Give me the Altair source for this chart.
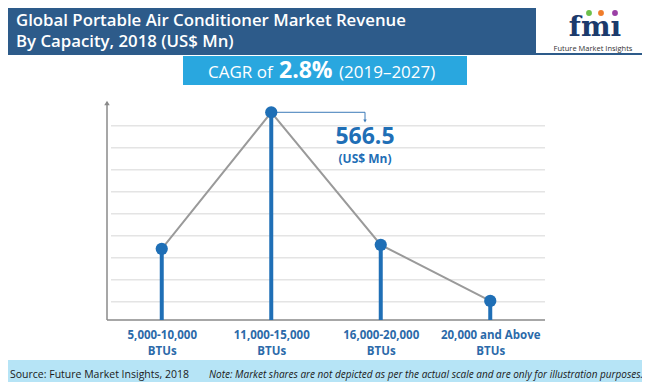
import altair as alt
import pandas as pd

# ---- data ----
categories = ["5,000-10,000", "11,000-15,000", "16,000-20,000", "20,000 and Above"]
values = [194, 566.5, 205, 52]
grid_values = [50, 110, 170, 230, 290, 350, 410, 470, 530]

title_line1 = "Global Portable Air Conditioner Market Revenue"
title_line2 = "By Capacity, 2018 (US$ Mn)"
source_text = "Source: Future Market Insights, 2018"
note_text = "Note: Market shares are not depicted as per the actual scale and are only for illustration purposes."

df = pd.DataFrame({"cat": categories, "v": values})
grid_df = pd.DataFrame({"g": grid_values})

W, H = 438, 220
FONT = "Open Sans"
BLUE = "#1f6fb6"
HEADER = "#2d5b8a"
one = alt.Data(values=[{}])

yscale = alt.Scale(domain=[0, 600], nice=False, zero=True)
xaxis = alt.Axis(
    title=None, domain=False, ticks=False, labelAngle=0,
    labelExpr="[datum.label, 'BTUs']", labelFontSize=11.5, labelFont=FONT,
    labelFontWeight="bold", labelColor="#2b6aa9", labelPadding=9, labelLineHeight=16,
)


def X():
    return alt.X("cat:N", sort=categories, scale=alt.Scale(type="point", padding=0.5), axis=xaxis)


def Y(field="v:Q"):
    return alt.Y(field, scale=yscale, axis=None)


def rect(x, x2, y, y2, color):
    return alt.Chart(one).mark_rect(color=color).encode(
        x=alt.value(x), x2=alt.value(x2), y=alt.value(y), y2=alt.value(y2))


def txt(t, x, y, size, color, weight="normal", align="left", baseline="alphabetic", font=FONT, style="normal"):
    return alt.Chart(one).mark_text(
        text=t, fontSize=size, color=color, fontWeight=weight, align=align,
        baseline=baseline, font=font, fontStyle=style).encode(x=alt.value(x), y=alt.value(y))


def dot(x, y, color, size, shape="circle"):
    return alt.Chart(one).mark_point(shape=shape, filled=True, size=size, color=color, opacity=1).encode(
        x=alt.value(x), y=alt.value(y))


# background decoration
header = rect(-120, 560, -110, -45, HEADER)
logo_box = rect(429, 560, -110, -47, "white")
cagr_box = rect(76, 360, -44, -15, "#29a7df")
footer = rect(-120, 560, 260, 300, "#b6e4f6")

t1 = txt(title_line1, -91, -74, 16.8, "white", 600)
t2 = txt(title_line2, -91, -53, 16.8, "white", 600)
c1 = txt("CAGR of", 101, -22, 17, "white", "normal")
c2 = txt("2.8%", 172, -22, 23, "white", "bold")
c3 = txt("(2019\u20132027)", 232, -22, 17, "white", "normal")

logo_fmi = txt("fm\u0131", 488, -64, 28, "#1b3a6c", "bold", align="center", font="DejaVu Serif")
d1 = dot(482, -87, "#6cc04a", 34)
d2 = dot(494, -87, "#f07c2a", 34)
d3 = dot(508, -87, "#9b3fa5", 34)
logo_sub = txt("Future Market Insights", 486, -49.5, 7.5, "#333333", align="center")

src = txt(source_text, -97, 275, 10.5, "#1a1a1a", baseline="middle")
note = txt(note_text, 536, 275, 10, "#1a1a1a", align="right", baseline="middle", style="italic")

# axes drawn as plot decoration
grid = alt.Chart(grid_df).mark_rule(color="#e4e4e4", strokeWidth=1.5).encode(
    y=Y("g:Q"), x=alt.value(4), x2=alt.value(W))
yline = alt.Chart(one).mark_rule(color="#8a8a8a", strokeWidth=1.5).encode(
    x=alt.value(0), y=alt.value(2), y2=alt.value(H))
arrow = dot(0, 3, "#8a8a8a", 30, "triangle-up")
xline = alt.Chart(one).mark_rule(color="#8a8a8a", strokeWidth=1.5).encode(
    x=alt.value(0), x2=alt.value(W), y=alt.value(H))

base = alt.Chart(df)
stems = base.mark_rule(color=BLUE, strokeWidth=4).encode(x=X(), y=Y(), y2=alt.Y2(datum=0))
line = base.mark_line(color="#9a9a9a", strokeWidth=2).encode(x=X(), y=Y())

peak_val = max(values)
peak = base.transform_filter(alt.datum.v == peak_val)
bracket_h = peak.mark_rule(color="#3d7bb8", strokeWidth=1).encode(
    x=X(), x2=alt.value(258), y=Y())
bracket_v = peak.mark_rule(color="#3d7bb8", strokeWidth=1).encode(
    x=alt.value(258), y=Y(), y2=alt.value(20))
bracket_a = dot(258, 21, "#3d7bb8", 12, "triangle-down")

points = base.mark_circle(color=BLUE, size=150, opacity=1).encode(x=X(), y=Y())

lab1 = txt(f"{peak_val}", 258, 44, 23, BLUE, "bold", align="center")
lab2 = txt("(US$ Mn)", 258, 63, 12, BLUE, "bold", align="center")

chart = alt.layer(
    header, logo_box, cagr_box, footer, t1, t2, c1, c2, c3, logo_fmi, d1, d2, d3, logo_sub, src, note,
    grid, yline, arrow, xline, line, stems, bracket_h, bracket_v, bracket_a, points, lab1, lab2,
).properties(
    width=W, height=H,
    autosize=alt.AutoSizeParams(type="none"),
    padding={"left": 99, "top": 92, "right": 97, "bottom": 62},
).configure_view(stroke=None)

chart.save("out.html", embed_options={"renderer": "svg", "actions": False})
